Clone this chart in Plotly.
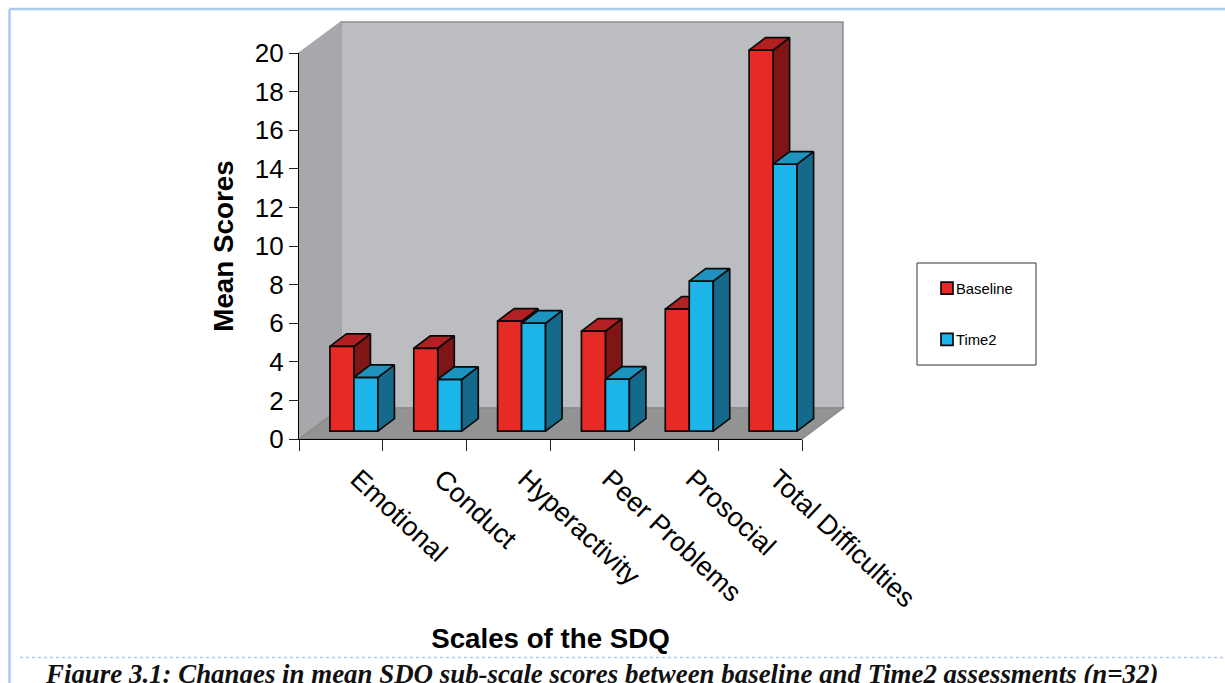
import plotly.graph_objects as go

W, H = 1225, 683

categories = ["Emotional", "Conduct", "Hyperactivity", "Peer Problems", "Prosocial", "Total Difficulties"]
baseline = [4.39, 4.29, 5.70, 5.18, 6.32, 19.74]
time2 = [2.78, 2.68, 5.59, 2.69, 7.77, 13.83]
y_ticks = list(range(0, 21, 2))
legend_names = ["Baseline", "Time2"]

# 3D look, in axis units
BASE = 0.41          # bars stand in the middle of the floor
DX, DY = 0.197, 0.648
BAR_W = 0.286
OFF_RED, OFF_BLUE = 0.012, 0.298

RED, RED_SIDE, RED_TOP = "#E72A25", "#7F1515", "#B22024"
BLUE, BLUE_SIDE, BLUE_TOP = "#1BB5EA", "#156A8C", "#1E93C0"
EDGE = "#0A0A0A"
EDGE_W = 1.7


def px(x):
    return x / W


def py(y):
    return 1 - y / H


def faces(values, offset):
    """Side and top faces for one series, from its values."""
    sx, sy, tx, ty = [], [], [], []
    for i, v in enumerate(values):
        l = i + offset - BAR_W / 2
        r = i + offset + BAR_W / 2
        top = BASE + v
        sx += [r, r + DX, r + DX, r, r, None]
        sy += [BASE, BASE + DY, top + DY, top, BASE, None]
        tx += [l, l + DX, r + DX, r, l, None]
        ty += [top, top + DY, top + DY, top, top, None]
    return sx, sy, tx, ty


def poly(x, y, color, xa, ya):
    return go.Scatter(x=x, y=y, mode="lines", fill="toself", fillcolor=color,
                      line=dict(color=EDGE, width=EDGE_W), hoverinfo="skip",
                      showlegend=False, xaxis=xa, yaxis=ya)


fig = go.Figure()
rs = faces(baseline, OFF_RED)
bs = faces(time2, OFF_BLUE)

# back layer: the red side and top, which blue fronts may cover
fig.add_trace(poly(rs[0], rs[1], RED_SIDE, "x", "y"))
fig.add_trace(poly(rs[2], rs[3], RED_TOP, "x", "y"))

idx = list(range(len(categories)))
fig.add_trace(go.Bar(x=[i + OFF_RED for i in idx], y=baseline, base=[BASE] * 6, width=BAR_W,
                     name=legend_names[0], legendgroup="a",
                     marker=dict(color=RED, line=dict(color=EDGE, width=EDGE_W)),
                     xaxis="x2", yaxis="y2"))
fig.add_trace(go.Bar(x=[i + OFF_BLUE for i in idx], y=time2, base=[BASE] * 6, width=BAR_W,
                     name=legend_names[1], legendgroup="b",
                     marker=dict(color=BLUE, line=dict(color=EDGE, width=EDGE_W)),
                     xaxis="x2", yaxis="y2"))
fig.add_trace(poly(bs[0], bs[1], BLUE_SIDE, "x2", "y2"))
fig.add_trace(poly(bs[2], bs[3], BLUE_TOP, "x2", "y2"))
# empty trace so that the true axis frame (ticks and titles) is drawn
fig.add_trace(go.Scatter(x=[None], y=[None], mode="lines", showlegend=False, hoverinfo="skip",
                         xaxis="x3", yaxis="y3"))


def path(points):
    return "M " + " L ".join(f"{px(a):.5f},{py(b):.5f}" for a, b in points) + " Z"


def wall(points, fill, line="#8E8F91"):
    return dict(type="path", xref="paper", yref="paper", path=path(points), fillcolor=fill,
                line=dict(color=line, width=1.5), layer="below")


def rule(x0, y0, x1, y1, color, width, dash="solid"):
    return dict(type="line", xref="paper", yref="paper", x0=px(x0), y0=py(y0), x1=px(x1), y1=py(y1),
                line=dict(color=color, width=width, dash=dash), layer="below")


shapes = [
    wall([(341, 22), (843, 22), (843, 408), (341, 408)], "#BCBDC0"),
    wall([(299, 53), (341, 22), (341, 408), (299, 439)], "#A7A8AB", "#A7A8AB"),
    wall([(299, 439), (341, 408), (843, 408), (802, 439)], "#939393", "#8A8A8A"),
    rule(9.5, 9, 1225, 9, "#A9CCEC", 2.5),
    rule(9.5, 9, 9.5, 683, "#A9CCEC", 2.5),
    rule(20, 657.5, 1225, 657.5, "#A9CCEC", 1.5, "dot"),
    dict(type="rect", xref="paper", yref="paper", x0=px(917), x1=px(1036), y0=py(365), y1=py(263),
         line=dict(color="#333333", width=1), fillcolor="white", layer="below"),
]

FONT = "Liberation Sans"
# true axis frame, and a wider drawing frame with the same scale so that
# the depth of the bars is not cut off by the axes
AX_DOMX = [px(299), px(802)]
AX_DOMY = [py(439), py(53)]
DR_DOMX = [px(299), px(843)]
DR_DOMY = [py(439), py(22)]
DR_XR = [-0.5, 5.5 + 41 / 83.83]
DR_YR = [0, 20 + 31 / 19.3]

fig.update_layout(
    width=W, height=H, margin=dict(l=0, r=0, t=0, b=0, autoexpand=False), autosize=False,
    paper_bgcolor="white", plot_bgcolor="rgba(0,0,0,0)",
    barmode="overlay", shapes=shapes,
    font=dict(family=FONT, color="black"),
    xaxis=dict(domain=DR_DOMX, range=DR_XR, visible=False),
    yaxis=dict(domain=DR_DOMY, range=DR_YR, visible=False),
    xaxis2=dict(domain=DR_DOMX, range=DR_XR, overlaying="x", anchor="y2", side="bottom",
                tickmode="array", tickvals=idx, ticktext=categories, tickangle=43,
                tickfont=dict(size=27), ticks="", showline=False, showgrid=False, zeroline=False,
                ticklabelshift=17, ticklabelstandoff=18),
    yaxis2=dict(domain=DR_DOMY, range=DR_YR, overlaying="y", anchor="x2", visible=False),
    xaxis3=dict(domain=AX_DOMX, range=[-0.5, 5.5], anchor="y3", tickmode="array",
                tickvals=[i - 0.5 for i in range(7)], ticktext=[""] * 7,
                ticks="outside", ticklen=11, tickwidth=1.2, tickcolor="#222222",
                showline=True, linecolor="black", linewidth=1.2, showgrid=False, zeroline=False,
                title=dict(text="<b>Scales of the SDQ</b>", font=dict(size=27.7), standoff=176)),
    yaxis3=dict(domain=AX_DOMY, range=[0, 20], anchor="x3", tickmode="array", tickvals=y_ticks,
                ticks="outside", ticklen=9, tickwidth=1.2, tickcolor="#222222",
                tickfont=dict(size=26), showline=True, linecolor="black", linewidth=1.2,
                showgrid=False, zeroline=False,
                title=dict(text="<b>Mean Scores</b>", font=dict(size=27.8), standoff=13)),
    legend=dict(x=px(927), y=py(272), xanchor="left", yanchor="top", bgcolor="rgba(0,0,0,0)",
                borderwidth=0, tracegroupgap=29, font=dict(size=14.8), traceorder="grouped"),
    annotations=[dict(text="<b><i>Figure 3.1: Changes in mean SDQ sub-scale scores between baseline and Time2 assessments (n=32)</i></b>",
                      xref="paper", yref="paper", x=px(43), y=py(657), xanchor="left", yanchor="top",
                      showarrow=False, font=dict(family="Liberation Serif", size=26.9, color="#111111"))],
)

post = """document.body.style.margin='0';
var gd=document.querySelector('.plotly-graph-div');
function tight(){document.querySelectorAll('.legendtext').forEach(function(t){t.setAttribute('x','29');});}
Promise.resolve(gd._promises&&Promise.all(gd._promises)).then(tight);tight();
"""
fig.write_html("out.html", post_script=post, config={"displayModeBar": False})
